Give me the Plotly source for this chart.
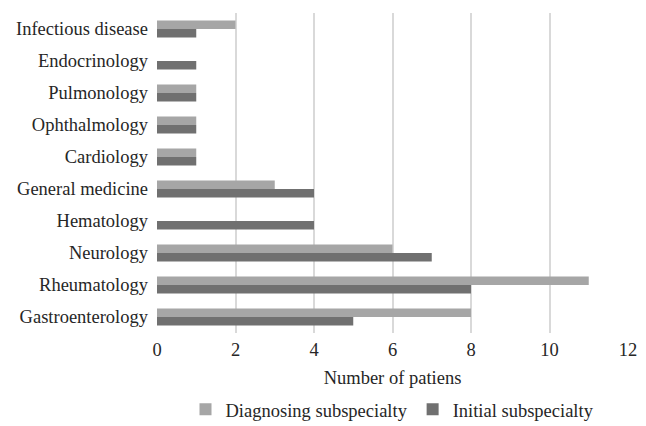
import plotly.graph_objects as go

categories = ["Gastroenterology", "Rheumatology", "Neurology", "Hematology",
              "General medicine", "Cardiology", "Ophthalmology", "Pulmonology",
              "Endocrinology", "Infectious disease"]
diagnosing = [8, 11, 6, 0, 3, 1, 1, 1, 0, 2]
initial = [5, 8, 7, 4, 4, 1, 1, 1, 1, 1]
x_ticks = [0, 2, 4, 6, 8, 10, 12]

FONT = "'Liberation Serif', 'Times New Roman', 'DejaVu Serif', serif"
FS = 18.5

fig = go.Figure()
fig.add_trace(go.Bar(y=categories, x=initial, orientation="h",
                     name="Initial subspecialty", marker_color="#707070",
                     marker_line_width=0))
fig.add_trace(go.Bar(y=categories, x=diagnosing, orientation="h",
                     name="Diagnosing subspecialty", marker_color="#a6a6a6",
                     marker_line_width=0))

fig.update_layout(
    width=646, height=426,
    margin=dict(l=157, r=18, t=13, b=93, autoexpand=False),
    barmode="group", bargap=0.47, bargroupgap=0,
    plot_bgcolor="white", paper_bgcolor="white",
    font=dict(family=FONT, size=FS, color="#262626"),
    legend=dict(orientation="h", x=0.5, xanchor="center", y=-0.24,
                yanchor="middle", traceorder="reversed",
                font=dict(family=FONT, size=FS), itemwidth=30),
    xaxis=dict(range=[0, 12], tickvals=x_ticks, showgrid=True,
               gridcolor="#d9d9d9", gridwidth=1.5, zeroline=False,
               showline=False, ticks="", ticklabelstandoff=3,
               automargin=False, tickfont=dict(family=FONT, size=FS),
               title=dict(text="Number of patiens", standoff=12,
                          font=dict(family=FONT, size=FS))),
    yaxis=dict(showgrid=False, showline=False, ticks="",
               ticklabelstandoff=8, categoryorder="array", automargin=False,
               tickfont=dict(family=FONT, size=FS),
               categoryarray=categories),
)

fig.write_html("out.html", config={"displayModeBar": False},
               post_script="document.body.style.margin='0';")
